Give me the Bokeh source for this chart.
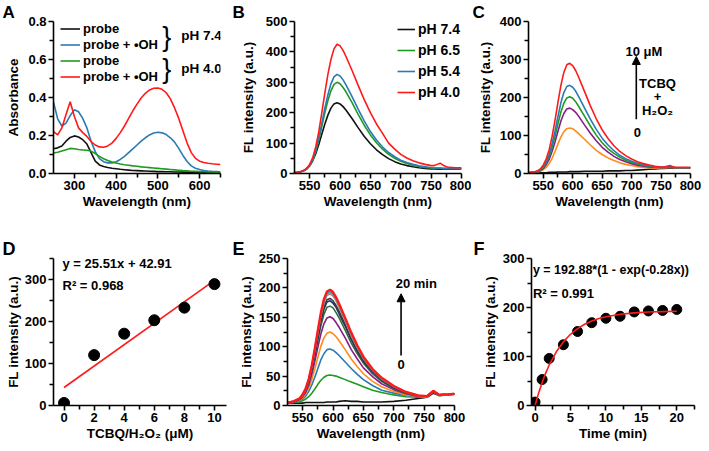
from bokeh.plotting import figure
from bokeh.models import (Range1d, FixedTicker, PrintfTickFormatter, Legend, LegendItem,
                          Label, Arrow, NormalHead)
from bokeh.layouts import row, column
from bokeh.embed import file_html
from bokeh.resources import INLINE

FONT = "Liberation Sans"

# ---------------- Panel A: absorbance ----------------
A_WL = [250, 260, 270, 280, 290, 300, 310, 320, 330, 340, 350, 360, 370, 380, 390, 400, 410,
        420, 430, 440, 450, 460, 470, 480, 490, 500, 510, 520, 530, 540, 550, 560, 570, 580,
        590, 600, 610, 620, 630, 640, 650]
A_PROBE_74 = [0.130, 0.135, 0.145, 0.170, 0.190, 0.198, 0.192, 0.178, 0.155, 0.110, 0.065, 0.045,
              0.037, 0.032, 0.028, 0.025, 0.022, 0.020, 0.018, 0.016, 0.015, 0.014, 0.013, 0.012,
              0.011, 0.010, 0.010, 0.009, 0.009, 0.008, 0.008, 0.007, 0.007, 0.006, 0.006, 0.005,
              0.005, 0.005, 0.004, 0.004, 0.004]
A_OH_74 = [0.375, 0.288, 0.250, 0.265, 0.305, 0.335, 0.325, 0.290, 0.240, 0.170, 0.115, 0.078,
           0.062, 0.056, 0.056, 0.062, 0.074, 0.090, 0.110, 0.130, 0.150, 0.170, 0.188, 0.203,
           0.213, 0.217, 0.214, 0.205, 0.188, 0.165, 0.132, 0.095, 0.063, 0.040, 0.028, 0.021,
           0.016, 0.013, 0.011, 0.010, 0.009]
A_PROBE_40 = [0.108, 0.112, 0.118, 0.125, 0.132, 0.130, 0.126, 0.124, 0.122, 0.118, 0.105, 0.090,
              0.078, 0.068, 0.060, 0.055, 0.050, 0.046, 0.043, 0.040, 0.038, 0.035, 0.033, 0.031,
              0.029, 0.027, 0.025, 0.023, 0.021, 0.019, 0.017, 0.015, 0.014, 0.012, 0.011, 0.010,
              0.009, 0.008, 0.007, 0.006, 0.006]
A_OH_40 = [0.220, 0.203, 0.240, 0.310, 0.378, 0.300, 0.240, 0.215, 0.195, 0.168, 0.150, 0.140,
           0.138, 0.145, 0.160, 0.185, 0.215, 0.250, 0.290, 0.330, 0.365, 0.397, 0.422, 0.440,
           0.449, 0.450, 0.443, 0.425, 0.393, 0.345, 0.290, 0.225, 0.160, 0.110, 0.080, 0.065,
           0.058, 0.054, 0.051, 0.049, 0.047]
A_LABELS = ["probe", "probe + \u2022OH", "probe", "probe + \u2022OH"]

# ---------------- Panels B, C: emission spectra ----------------
WL = [525, 530, 535, 540, 545, 550, 555, 560, 565, 570, 575, 580, 585, 590, 595, 600, 605, 610,
      620, 630, 640, 650, 660, 670, 680, 690, 700, 710, 720, 730, 740, 750,
      755, 760, 765, 770, 775, 780, 790, 800]
B_PH74 = [3, 4, 6, 9, 15, 25, 42, 65, 95, 130, 163, 192, 215, 229, 233, 229, 220, 208,
          180, 150, 122, 98, 78, 62, 49, 39, 31, 26, 22, 19, 17, 15,
          15, 14, 14, 14, 14, 14, 14, 15]
B_PH65 = [3, 4, 6, 9, 15, 26, 44, 72, 110, 155, 200, 240, 272, 293, 300, 295, 283, 268,
          232, 194, 158, 127, 101, 80, 63, 50, 40, 33, 27, 23, 20, 18,
          17, 17, 17, 16, 16, 16, 16, 16]
B_PH54 = [3, 4, 6, 9, 15, 27, 46, 76, 117, 166, 215, 259, 295, 318, 326, 321, 308, 291,
          252, 211, 172, 138, 110, 87, 69, 55, 44, 36, 30, 25, 22, 19,
          18, 18, 18, 17, 17, 17, 17, 17]
B_PH40 = [3, 4, 6, 10, 17, 30, 52, 88, 138, 200, 265, 326, 375, 410, 425, 420, 405, 384,
          338, 289, 242, 200, 163, 132, 100, 80, 63, 51, 42, 35, 30, 26,
          26, 30, 34, 27, 22, 20, 19, 19]
B_LABELS = ["pH 7.4", "pH 6.5", "pH 5.4", "pH 4.0"]

C_0 = [1, 1, 1, 1, 2, 2, 2, 3, 3, 3, 4, 4, 4, 4, 5, 5, 5, 5,
       6, 6, 6, 6, 7, 7, 7, 8, 8, 9, 10, 11, 12, 13,
       13, 14, 15, 14, 14, 14, 15, 15]
C_2 = [2, 3, 3, 4, 6, 10, 16, 26, 40, 58, 78, 96, 110, 118, 120, 118, 112, 105,
       90, 75, 61, 50, 41, 34, 28, 24, 21, 18, 16, 15, 14, 14,
       14, 15, 17, 15, 14, 14, 14, 15]
C_4 = [2, 3, 4, 5, 8, 13, 23, 37, 58, 83, 111, 138, 158, 170, 172, 168, 161, 151,
       128, 106, 86, 69, 56, 45, 37, 31, 26, 22, 19, 17, 16, 15,
       15, 16, 18, 16, 15, 15, 15, 15]
C_6 = [2, 3, 4, 5, 9, 16, 27, 44, 68, 98, 131, 162, 185, 199, 202, 198, 189, 177,
       151, 125, 101, 81, 65, 53, 43, 35, 29, 25, 21, 19, 17, 16,
       16, 17, 19, 17, 15, 15, 15, 15]
C_8 = [2, 3, 4, 6, 10, 18, 31, 50, 78, 112, 150, 186, 213, 229, 232, 227, 217, 203,
       173, 143, 116, 93, 75, 60, 48, 39, 32, 27, 23, 20, 17, 16,
       16, 17, 19, 17, 15, 15, 15, 15]
C_10 = [2, 3, 4, 7, 12, 22, 38, 62, 97, 140, 187, 232, 266, 286, 290, 284, 271, 254,
        216, 178, 144, 115, 92, 73, 58, 47, 38, 31, 26, 22, 19, 17,
        17, 19, 21, 18, 16, 16, 16, 16]

# ---------------- Panel D: calibration ----------------
D_CONC = [0, 2, 4, 6, 8, 10]
D_FL = [6, 120, 171, 203, 233, 289]
D_FIT_X = [0, 10]
D_FIT_Y = [42.91, 298.01]

# ---------------- Panel E: time course spectra ----------------
E_WL = [525, 535, 545, 550, 555, 560, 565, 570, 575, 580, 585, 590, 595, 600, 605, 610,
        620, 630, 640, 650, 665, 680, 700, 720, 740, 755, 765, 775, 790, 800]
E_T0 = [4, 4, 4, 4, 5, 5, 5, 5, 5, 5, 5, 6, 6, 6, 6, 7, 8, 7, 7, 6, 6, 6, 7, 9, 12, 14, 21, 17, 18, 20]
E_T1 = [4, 5, 6, 8, 11, 15, 21, 28, 36, 43, 48, 51, 52, 51, 50, 48, 44, 40, 36, 32, 26, 22, 18, 15, 14, 14, 23, 17, 18, 19]
E_T2 = [5, 5, 8, 11, 16, 24, 35, 48, 63, 78, 88, 95, 96, 94, 90, 85, 74, 63, 53, 44, 34, 26, 21, 17, 15, 15, 23, 17, 18, 19]
E_T4 = [5, 6, 9, 13, 20, 30, 44, 62, 82, 101, 115, 123, 125, 122, 117, 110, 95, 79, 66, 54, 41, 32, 24, 18, 16, 15, 24, 17, 18, 19]
E_T6 = [5, 6, 10, 15, 23, 35, 53, 75, 99, 122, 139, 149, 151, 148, 141, 133, 115, 95, 79, 64, 49, 37, 27, 20, 16, 16, 24, 18, 19, 20]
E_T8 = [5, 6, 11, 17, 26, 39, 59, 84, 110, 136, 155, 167, 169, 166, 158, 149, 128, 106, 88, 72, 54, 41, 29, 21, 17, 16, 24, 18, 19, 20]
E_T10 = [5, 6, 11, 17, 27, 41, 62, 88, 116, 143, 164, 176, 178, 174, 167, 156, 135, 112, 92, 75, 57, 43, 30, 22, 17, 16, 24, 18, 19, 20]
E_T12 = [5, 6, 11, 18, 27, 42, 63, 90, 119, 146, 167, 180, 182, 178, 170, 160, 138, 114, 94, 77, 58, 44, 31, 22, 17, 16, 25, 18, 19, 20]
E_T14 = [5, 7, 12, 18, 28, 44, 66, 94, 124, 153, 175, 187, 190, 186, 178, 167, 144, 119, 98, 80, 60, 45, 32, 23, 17, 16, 25, 18, 19, 20]
E_T16 = [5, 7, 12, 18, 29, 44, 67, 95, 125, 154, 176, 189, 192, 188, 180, 169, 145, 120, 99, 81, 61, 46, 32, 23, 17, 16, 25, 18, 19, 20]
E_T18 = [5, 7, 12, 18, 29, 45, 67, 96, 127, 156, 178, 191, 194, 190, 181, 170, 147, 122, 100, 81, 61, 46, 33, 23, 17, 16, 25, 18, 19, 20]
E_T20 = [5, 7, 12, 19, 29, 45, 68, 97, 128, 158, 181, 194, 197, 193, 184, 173, 149, 124, 102, 83, 62, 47, 33, 23, 17, 16, 25, 18, 19, 20]

# ---------------- Panel F: kinetics ----------------
F_TIME = [0, 1, 2, 4, 6, 8, 10, 12, 14, 16, 18, 20]
F_FL = [7, 53, 96, 124, 151, 169, 178, 182, 191, 193, 194, 196]
F_FIT_X = [0, 0.5, 1, 1.5, 2, 3, 4, 5, 6, 7, 8, 9, 10, 12, 14, 16, 18, 20]
F_FIT_Y = [0, 25.2, 47.1, 66.2, 82.7, 109.6, 129.9, 145.3, 156.9, 165.7, 172.3, 177.4,
           181.2, 186.2, 189.1, 190.7, 191.6, 192.2]

BLACK = "#111111"
GREEN = "#1f9a1f"
BLUE = "#2a7ab4"
RED = "#ff1a1a"
ORANGE = "#ff8a1e"
PURPLE = "#8a1a8a"


def make_fig(w, h, left, right, top, bottom, xr, yr, xt, xm, yt, ym, xlabel, ylabel,
             yfmt="%d", ylab_standoff=3):
    p = figure(width=w, height=h, x_range=Range1d(*xr), y_range=Range1d(*yr),
               output_backend="svg", toolbar_location=None,
               min_border_left=left, min_border_right=right,
               min_border_top=top, min_border_bottom=bottom)
    p.outline_line_color = None
    p.xgrid.visible = False
    p.ygrid.visible = False
    p.background_fill_color = "white"
    p.border_fill_color = "white"
    p.xaxis.ticker = FixedTicker(ticks=xt, minor_ticks=xm)
    p.yaxis.ticker = FixedTicker(ticks=yt, minor_ticks=ym)
    p.xaxis.formatter = PrintfTickFormatter(format="%d")
    p.yaxis.formatter = PrintfTickFormatter(format=yfmt)
    for ax in (p.xaxis[0], p.yaxis[0]):
        ax.axis_line_width = 1.6
        ax.axis_line_color = "black"
        ax.major_tick_line_width = 1.6
        ax.minor_tick_line_width = 1.6
        ax.major_tick_line_color = "black"
        ax.minor_tick_line_color = "black"
        ax.major_tick_in = 0
        ax.major_tick_out = 5
        ax.minor_tick_in = 0
        ax.minor_tick_out = 4
        ax.major_label_text_font = FONT
        ax.major_label_text_font_style = "bold"
        ax.major_label_text_font_size = "13px"
        ax.major_label_text_color = "black"
        ax.major_label_standoff = 2
        ax.axis_label_text_font = FONT
        ax.axis_label_text_font_style = "bold"
        ax.axis_label_text_font_size = "13.5px"
        ax.axis_label_text_color = "black"
    p.xaxis.axis_label = xlabel
    p.yaxis.axis_label = ylabel
    p.xaxis.axis_label_standoff = 1
    p.yaxis.axis_label_standoff = ylab_standoff
    return p


def letter(p, txt, offset, size="17px"):
    t = p.title
    t.text = txt
    t.align = "left"
    t.offset = offset
    t.standoff = 0
    t.vertical_align = "bottom"
    t.text_font = FONT
    t.text_font_style = "bold"
    t.text_font_size = size
    t.text_color = "black"


def note(p, txt, x, y, align="center", size="13px", style="bold"):
    p.add_layout(Label(x=x, y=y, text=txt, text_font=FONT, text_font_style=style,
                       text_font_size=size, text_align=align, text_baseline="middle",
                       text_color="black"))


def style_legend(lg, size, lh, gw, spacing):
    lg.border_line_color = None
    lg.background_fill_alpha = 0
    lg.padding = 0
    lg.margin = 0
    lg.spacing = spacing
    lg.label_height = lh
    lg.glyph_height = lh
    lg.glyph_width = gw
    lg.label_standoff = 3
    lg.label_text_font = FONT
    lg.label_text_font_style = "bold"
    lg.label_text_font_size = size
    lg.label_text_color = "black"
    lg.label_text_baseline = "middle"


LW = 1.6

# ----- A -----
pA = make_fig(228, 225, 53, 8, 20, 52, (250, 650), (0, 0.8),
              [300, 400, 500, 600], [350, 450, 550, 650],
              [0, 0.2, 0.4, 0.6, 0.8], [0.1, 0.3, 0.5, 0.7],
              "Wavelength (nm)", "Absorbance", yfmt="%.1f", ylab_standoff=4)
rA = []
for ys, c in zip([A_PROBE_74, A_OH_74, A_PROBE_40, A_OH_40], [BLACK, BLUE, GREEN, RED]):
    rA.append(pA.line(A_WL, ys, line_color=c, line_width=LW))
lgA = Legend(items=[LegendItem(label=t, renderers=[r]) for t, r in zip(A_LABELS, rA)],
             location=(7, 89))
style_legend(lgA, "13px", 15, 20, 1)
pA.add_layout(lgA)
note(pA, "}", 521, 0.720, align="center", size="27px", style="normal")
note(pA, "}", 521, 0.552, align="center", size="27px", style="normal")
note(pA, "pH 7.4", 556, 0.728, align="left", size="13.5px")
note(pA, "pH 4.0", 556, 0.552, align="left", size="13.5px")
letter(pA, "A", -51)

# ----- B -----
pB = make_fig(243, 225, 66, 10, 20, 52, (525, 800), (0, 500),
              [550, 600, 650, 700, 750, 800], [575, 625, 675, 725, 775],
              [0, 100, 200, 300, 400, 500], [50, 150, 250, 350, 450],
              "Wavelength (nm)", "FL intensity (a.u.)", ylab_standoff=7)
rB = []
for ys, c in zip([B_PH74, B_PH65, B_PH54, B_PH40], [BLACK, GREEN, BLUE, RED]):
    rB.append(pB.line(WL, ys, line_color=c, line_width=LW))
lgB = Legend(items=[LegendItem(label=t, renderers=[r]) for t, r in zip(B_LABELS, rB)],
             location=(103, 73))
style_legend(lgB, "14px", 16, 18, 5)
pB.add_layout(lgB)
letter(pB, "B", -62)

# ----- C -----
pC = make_fig(238, 225, 57, 19, 20, 52, (525, 800), (0, 400),
              [550, 600, 650, 700, 750, 800], [575, 625, 675, 725, 775],
              [0, 100, 200, 300, 400], [50, 150, 250, 350],
              "Wavelength (nm)", "FL intensity (a.u.)", ylab_standoff=4)
for ys, c in zip([C_0, C_2, C_4, C_6, C_8, C_10], [BLACK, ORANGE, PURPLE, GREEN, BLUE, RED]):
    pC.line(WL, ys, line_color=c, line_width=LW)
pC.add_layout(Arrow(end=NormalHead(size=8, fill_color="black", line_color="black"),
                    x_start=708, y_start=143, x_end=708, y_end=308,
                    line_color="black", line_width=1.6))
note(pC, "10 \u03bcM", 721, 321)
note(pC, "TCBQ", 744, 237)
note(pC, "+", 744, 203)
note(pC, "H\u2082O\u2082", 744, 166)
note(pC, "0", 710, 107)
letter(pC, "C", -56)

# ----- D -----
pD = make_fig(228, 226, 53, 2, 27, 46, (-0.7, 10.8), (0, 350),
              [0, 2, 4, 6, 8, 10], [1, 3, 5, 7, 9],
              [0, 100, 200, 300], [50, 150, 250, 350],
              "TCBQ/H\u2082O\u2082 (\u03bcM)", "FL intensity (a.u.)", ylab_standoff=1)
pD.line(D_FIT_X, D_FIT_Y, line_color=RED, line_width=LW)
pD.scatter(D_CONC, D_FL, size=11, fill_color="black", line_color="black")
note(pD, "y = 25.51x + 42.91", -0.1, 337, align="left")
note(pD, "R\u00b2 = 0.968", -0.1, 286, align="left")
letter(pD, "D", -51, "18px")

# ----- E -----
pE = make_fig(242, 226, 59, 16, 27, 46, (525, 800), (0, 250),
              [550, 600, 650, 700, 750, 800], [575, 625, 675, 725, 775],
              [0, 50, 100, 150, 200, 250], [25, 75, 125, 175, 225],
              "Wavelength (nm)", "FL intensity (a.u.)", ylab_standoff=2)
E_SERIES = [E_T0, E_T1, E_T2, E_T4, E_T6, E_T8, E_T10, E_T12, E_T14, E_T16, E_T18, E_T20]
E_COLORS = [BLACK, GREEN, BLUE, ORANGE, PURPLE, "#2f6b3c", "#1f2f6b", "#3a3a3a",
            "#b58a86", "#8f8f8f", "#3aa3b3", RED]
for i, (ys, c) in enumerate(zip(E_SERIES, E_COLORS)):
    pE.line(E_WL, ys, line_color=c, line_width=2.4 if i == len(E_SERIES) - 1 else LW)
pE.add_layout(Arrow(end=NormalHead(size=8, fill_color="black", line_color="black"),
                    x_start=712, y_start=85, x_end=712, y_end=190,
                    line_color="black", line_width=1.6))
note(pE, "20 min", 737, 207)
note(pE, "0", 712, 69)
letter(pE, "E", -55, "18px")

# ----- F -----
pF = make_fig(239, 226, 61, 15, 33, 39, (-0.5, 22.5), (0, 300),
              [0, 5, 10, 15, 20], [2.5, 7.5, 12.5, 17.5, 22.5],
              [0, 100, 200, 300], [50, 150, 250],
              "Time (min)", "FL intensity (a.u.)", ylab_standoff=2)
pF.scatter(F_TIME, F_FL, size=10, fill_color="black", line_color="black")
pF.line(F_FIT_X, F_FIT_Y, line_color=RED, line_width=LW)
note(pF, "y = 192.88*(1 - exp(-0.28x))", -0.3, 276, align="left", size="12.5px")
note(pF, "R\u00b2 = 0.991", -0.3, 228, align="left")
letter(pF, "F", -58, "18px")

layout = column(row(pA, pB, pC), row(pD, pE, pF))
open("out.html", "w").write(file_html(layout, INLINE))
